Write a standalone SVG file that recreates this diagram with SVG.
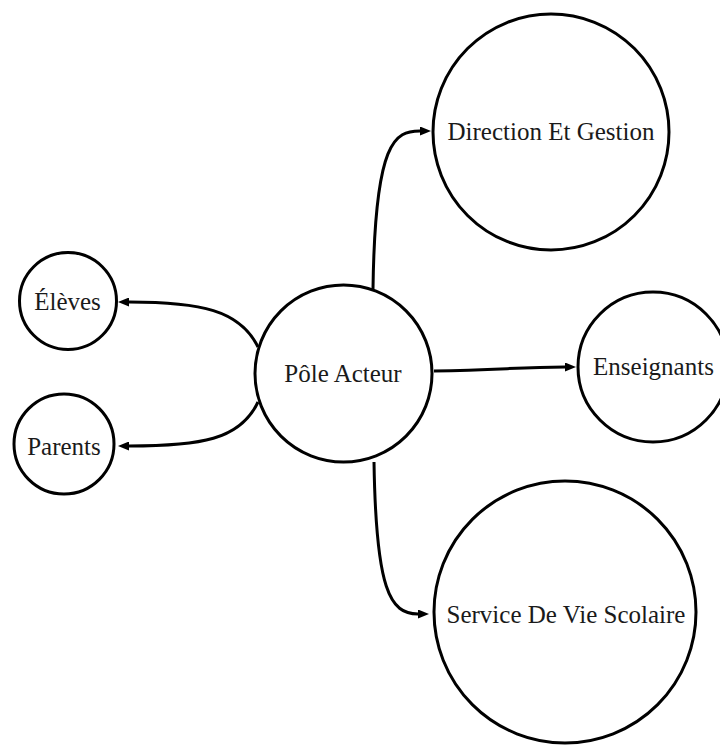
<svg xmlns="http://www.w3.org/2000/svg" width="720" height="745" viewBox="0 0 720 745">
  <style>
    .node circle { fill: #ffffff; stroke: #000000; stroke-width: 3; }
    .node text { font-size: 25px; fill: #1a1a1a; text-anchor: middle; }
    .edge { fill: none; stroke: #000000; stroke-width: 3; marker-end: url(#arrow); }
  </style>
  <defs>
    <marker id="arrow" markerUnits="userSpaceOnUse" markerWidth="11" markerHeight="9" refX="0" refY="4.5" orient="auto">
      <path d="M0,0 L11,4.5 L0,9 z" fill="#000000"/>
    </marker>
  </defs>

  <rect width="720" height="745" fill="#ffffff"/>

  <g id="connectors">
    <path class="edge" d="M373,289 C375,140 395,131 420,131"/>
    <path class="edge" d="M434,371 C500,370 520,367 565,367"/>
    <path class="edge" d="M258,347 C240,310 200,302 129,302"/>
    <path class="edge" d="M258,402 C240,440 200,446 129,446"/>
    <path class="edge" d="M374,462 C376,590 390,614 418,614"/>
  </g>

  <g font-family="Liberation Serif, DejaVu Serif, serif">
    <g id="pole-acteur" class="node">
      <circle cx="343.5" cy="373.5" r="88.5"/>
      <text x="343" y="382">Pôle Acteur</text>
    </g>

    <g id="direction-et-gestion" class="node">
      <circle cx="551" cy="132" r="118"/>
      <text x="551" y="140">Direction Et Gestion</text>
    </g>

    <g id="enseignants" class="node">
      <circle cx="653" cy="367" r="75"/>
      <text x="653.5" y="375">Enseignants</text>
    </g>

    <g id="service-de-vie-scolaire" class="node">
      <circle cx="565" cy="612" r="131"/>
      <text x="566" y="623">Service De Vie Scolaire</text>
    </g>

    <g id="eleves" class="node">
      <circle cx="68" cy="301" r="48.5"/>
      <text x="67.5" y="310">Élèves</text>
    </g>

    <g id="parents" class="node">
      <circle cx="64" cy="444" r="50"/>
      <text x="64" y="455">Parents</text>
    </g>
  </g>
</svg>
